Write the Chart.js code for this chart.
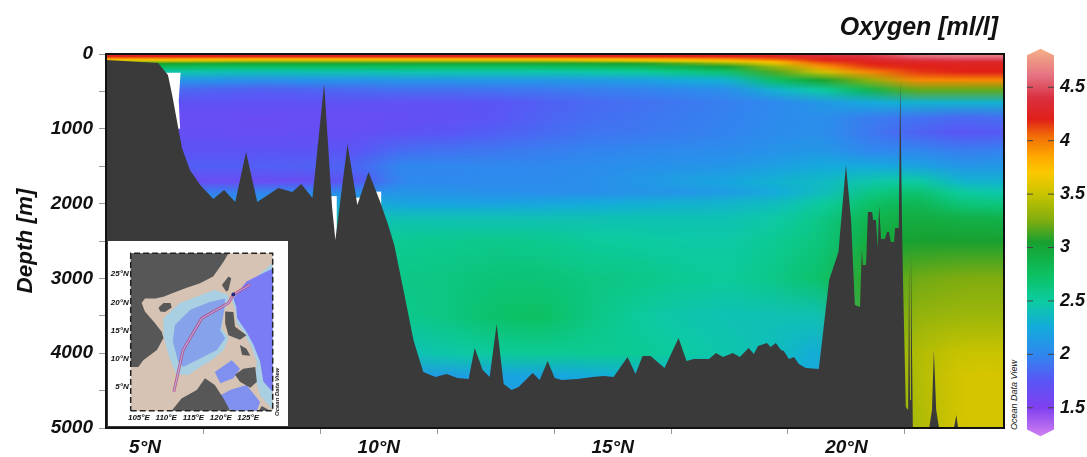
<!DOCTYPE html>
<html>
<head>
<meta charset="utf-8">
<script src="https://cdn.jsdelivr.net/npm/chart.js@4"></script>
<style>
  html, body { margin: 0; padding: 0; background: #fff; }
  body { width: 1087px; height: 457px; position: relative; overflow: hidden; font-family: "Liberation Sans", Arial, sans-serif; }
  .box { position: absolute; }
  .label { position: absolute; font-style: italic; color: #111; white-space: nowrap; }
</style>
</head>
<body>
<div class="box" style="left:0;top:0;width:1006px;height:457px"><canvas id="section"></canvas></div>
<div class="box" style="left:1020px;top:32px;width:67px;height:421px"><canvas id="colorbar"></canvas></div>
<div class="box" style="left:108px;top:241px;width:180px;height:185px;background:#fff"><canvas id="inset"></canvas></div>
<div class="label" style="right:89px;top:12px;font-size:25px;font-weight:bold">Oxygen [ml/l]</div>
<div class="label" style="left:1014px;top:395px;font-size:9px;transform:translate(-50%,-50%) rotate(-90deg)">Ocean Data View</div>
<div class="label" style="left:277px;top:392px;font-size:6px;font-weight:bold;transform:translate(-50%,-50%) rotate(-90deg)">Ocean Data View</div>
<script>
// depth levels of the oxygen table [m]
var depths = [0, 30, 60, 80, 100, 130, 170, 240, 350, 480, 650, 850, 1050, 1300, 1500, 1700, 1850, 2000, 2200, 2500, 3000, 3500, 4000, 4300, 5000];
// latitude of each column
var columnLats = [4.5, 5.5, 6.5, 7.5, 8.5, 9.5, 10.5, 11.5, 12.5, 13.5, 14.5, 15.5, 16.5, 17.5, 18.5, 19.5, 20.5, 21.5, 22.5, 23.5];
// oxygen [ml/l], one row per column, same order as depths
var oxygen = [
  [4.3, 4.2, 3.95, 3.7, 3.4, 3.05, 2.8, 2.45, 2.1, 1.85, 1.72, 1.66, 1.68, 1.73, 1.8, 1.66, 1.95, 2.1, 2.3, 2.4, 2.5, 2.5, 2.4, 2.2, 2.1],
  [4.3, 4.2, 3.95, 3.7, 3.4, 3.05, 2.8, 2.45, 2.1, 1.85, 1.72, 1.66, 1.68, 1.73, 1.8, 1.66, 1.95, 2.1, 2.3, 2.4, 2.5, 2.5, 2.4, 2.2, 2.1],
  [4.3, 4.2, 3.92, 3.68, 3.35, 3.0, 2.75, 2.42, 2.08, 1.82, 1.72, 1.66, 1.68, 1.73, 1.8, 1.65, 1.95, 2.1, 2.3, 2.4, 2.5, 2.5, 2.4, 2.2, 2.1],
  [4.3, 4.22, 3.9, 3.65, 3.3, 3.0, 2.75, 2.4, 2.05, 1.8, 1.7, 1.65, 1.67, 1.73, 1.8, 1.65, 1.98, 2.12, 2.3, 2.4, 2.5, 2.5, 2.4, 2.2, 2.1],
  [4.3, 4.22, 3.9, 3.65, 3.3, 3.0, 2.75, 2.42, 2.08, 1.82, 1.72, 1.66, 1.68, 1.74, 1.81, 1.67, 2.0, 2.15, 2.32, 2.42, 2.5, 2.52, 2.4, 2.2, 2.1],
  [4.3, 4.22, 3.9, 3.65, 3.3, 3.0, 2.75, 2.42, 2.08, 1.85, 1.72, 1.66, 1.68, 1.75, 1.83, 1.75, 2.02, 2.3, 2.42, 2.5, 2.55, 2.6, 2.4, 2.2, 2.1],
  [4.3, 4.22, 3.9, 3.65, 3.3, 3.0, 2.75, 2.45, 2.1, 1.88, 1.7, 1.68, 1.72, 1.87, 2.0, 2.0, 2.1, 2.2, 2.42, 2.55, 2.6, 2.58, 2.4, 2.15, 2.1],
  [4.3, 4.22, 3.9, 3.65, 3.3, 3.0, 2.75, 2.45, 2.1, 1.88, 1.72, 1.7, 1.75, 1.9, 2.0, 2.0, 2.08, 2.2, 2.42, 2.57, 2.62, 2.62, 2.47, 2.15, 2.1],
  [4.3, 4.22, 3.9, 3.65, 3.3, 3.0, 2.75, 2.45, 2.12, 1.9, 1.75, 1.74, 1.8, 1.92, 2.0, 2.02, 2.06, 2.2, 2.42, 2.58, 2.66, 2.72, 2.52, 2.2, 2.1],
  [4.3, 4.22, 3.9, 3.65, 3.3, 3.0, 2.75, 2.45, 2.12, 1.92, 1.8, 1.82, 1.85, 1.95, 2.0, 2.02, 2.05, 2.22, 2.42, 2.57, 2.66, 2.75, 2.55, 2.2, 2.1],
  [4.3, 4.22, 3.9, 3.68, 3.35, 3.02, 2.78, 2.47, 2.14, 1.95, 1.85, 1.87, 1.9, 1.98, 2.03, 2.05, 2.05, 2.25, 2.42, 2.52, 2.62, 2.62, 2.55, 2.25, 2.15],
  [4.3, 4.22, 3.92, 3.7, 3.4, 3.05, 2.82, 2.5, 2.16, 1.97, 1.88, 1.9, 1.92, 2.0, 2.06, 2.1, 2.08, 2.28, 2.42, 2.5, 2.6, 2.52, 2.55, 2.3, 2.2],
  [4.3, 4.2, 3.95, 3.75, 3.5, 3.15, 2.9, 2.6, 2.25, 2.0, 1.92, 1.94, 1.95, 2.02, 2.08, 2.17, 2.1, 2.3, 2.42, 2.48, 2.55, 2.45, 2.5, 2.3, 2.2],
  [4.3, 4.22, 4.0, 3.85, 3.6, 3.3, 3.05, 2.7, 2.3, 2.05, 1.96, 1.97, 1.98, 2.04, 2.1, 2.22, 2.15, 2.32, 2.42, 2.48, 2.52, 2.42, 2.45, 2.3, 2.2],
  [4.35, 4.25, 4.1, 4.0, 3.8, 3.6, 3.35, 3.15, 2.75, 2.3, 2.0, 2.02, 2.03, 2.08, 2.17, 2.3, 2.25, 2.38, 2.48, 2.55, 2.6, 2.42, 2.38, 2.28, 2.2],
  [4.4, 4.35, 4.25, 4.2, 4.15, 4.05, 3.9, 3.55, 3.05, 2.5, 2.12, 2.05, 2.05, 2.12, 2.25, 2.35, 2.38, 2.5, 2.6, 2.65, 2.72, 2.42, 2.25, 2.22, 2.2],
  [4.45, 4.4, 4.32, 4.28, 4.25, 4.2, 4.15, 3.95, 3.3, 2.85, 2.25, 1.95, 1.92, 2.0, 2.25, 2.45, 2.6, 2.72, 2.85, 2.95, 3.1, 3.15, 3.2, 3.2, 3.2],
  [4.65, 4.58, 4.48, 4.42, 4.32, 4.24, 4.2, 4.15, 3.95, 3.2, 2.3, 1.9, 1.82, 2.0, 2.2, 2.5, 2.7, 2.85, 2.95, 3.05, 3.22, 3.32, 3.42, 3.42, 3.4],
  [4.7, 4.62, 4.52, 4.45, 4.35, 4.25, 4.22, 4.2, 3.95, 3.2, 2.3, 1.85, 1.75, 1.95, 2.1, 2.3, 2.5, 2.65, 2.9, 3.05, 3.25, 3.35, 3.5, 3.55, 3.55],
  [4.7, 4.62, 4.52, 4.45, 4.35, 4.25, 4.22, 4.2, 3.95, 3.2, 2.3, 1.88, 1.78, 1.98, 2.12, 2.3, 2.45, 2.62, 2.88, 3.05, 3.25, 3.35, 3.5, 3.55, 3.55]
];

// sea floor along the section
var floorLat = [4.16, 5.28, 5.49, 5.58, 5.71, 5.79, 5.96, 6.18, 6.46, 6.69, 6.93, 7.16, 7.40, 7.85, 8.15, 8.34, 8.58, 8.83, 9.00, 9.07, 9.33, 9.54, 9.78, 10.03, 10.20, 10.33, 10.57, 10.74, 10.95, 11.21, 11.45, 11.68, 11.92, 12.05, 12.22, 12.37, 12.52, 12.67, 12.84, 12.99, 13.29, 13.44, 13.61, 13.76, 13.91, 14.25, 14.57, 14.81, 15.02, 15.32, 15.49, 15.64, 15.81, 16.11, 16.41, 16.58, 16.73, 17.06, 17.21, 17.36, 17.57, 17.72, 17.91, 18.02, 18.11, 18.30, 18.38, 18.49, 18.60, 18.66, 18.77, 18.88, 18.98, 19.13, 19.41, 19.63, 19.83, 19.99, 20.10, 20.18, 20.29, 20.33, 20.35, 20.42, 20.46, 20.55, 20.57, 20.63, 20.67, 20.70, 20.74, 20.82, 20.87, 20.91, 20.95, 21.02, 21.04, 21.12, 21.15, 21.19, 21.21, 21.27, 21.32, 21.34, 21.36, 21.38, 21.42, 21.77, 21.83, 21.87, 21.92, 21.98, 22.30, 22.35, 22.39, 23.37];
var floorDepth = [80, 120, 280, 548, 990, 1257, 1551, 1751, 1939, 1818, 1979, 1310, 1979, 1792, 1845, 1738, 1925, 401, 2046, 2487, 1203, 2019, 1578, 1979, 2286, 2554, 3289, 3824, 4252, 4319, 4278, 4332, 4345, 3931, 4225, 4319, 3610, 4412, 4492, 4452, 4265, 4359, 4105, 4332, 4359, 4345, 4319, 4305, 4319, 4051, 4278, 4038, 4038, 4198, 3797, 4105, 4078, 4078, 3998, 4051, 3998, 4051, 3931, 4011, 3904, 3864, 3917, 3864, 3958, 3971, 4078, 4051, 4145, 4198, 4212, 3022, 2647, 1484, 2219, 3356, 3383, 2621, 2821, 2821, 2112, 2112, 2219, 2219, 2594, 2032, 2473, 2473, 2380, 2380, 2514, 2514, 2326, 2326, 361, 2313, 3022, 4720, 4760, 2821, 4626, 2607, 5000, 5000, 4760, 3958, 4760, 5000, 5000, 4827, 5000, 5000];

// areas without data, white in the section [lat, depth]
var gapShelf = [[5.40, 250], [5.76, 250], [5.72, 620], [5.75, 1000], [5.5, 1000]];
var gapRidge = [[8.95, 1900], [9.1, 1900], [9.1, 2550], [8.95, 2550]];
var gapSaddle = [[9.4, 1920], [9.65, 1920], [9.65, 2100], [9.4, 2100]];
var gapSlope = [[9.9, 1840], [10.05, 1840], [10.05, 2100], [9.9, 2100]];

var colorValues = [1.234, 1.5, 1.75, 2.0, 2.25, 2.5, 2.75, 3.05, 3.25, 3.5, 3.7, 3.85, 4.05, 4.2, 4.4, 4.6, 4.86];
var colorHex = ['#d080f0', '#8040f0', '#5a55f5', '#2f88ee', '#14aadc', '#0ccca0', '#0cc060', '#18a030', '#80ac10', '#c8c400', '#fcc800', '#ffa800', '#f06a08', '#e02018', '#d93040', '#e47080', '#f5b088'];
var barTicks = [1.5, 2, 2.5, 3, 3.5, 4, 4.5];
var barOutlineX = [0, 0, 0.5, 1, 1, 0.5];
var barOutlineY = [1.297, 4.8, 4.86, 4.8, 1.297, 1.234];

// inset map outlines [lon, lat]
var mapFrame = [[103.5, 0.86], [129.5, 0.86], [129.5, 28.7], [103.5, 28.7], [103.5, 0.86]];
var mainland = [[103.5, 28.7], [121.4, 28.7], [120.5, 27.2], [118.6, 24.6], [116.2, 23.4], [113.5, 22.5], [111.0, 21.6], [109.5, 21.0], [108.0, 20.7], [106.1, 20.7], [105.5, 19.9], [106.1, 18.4], [108.0, 16.3], [109.2, 14.8], [109.5, 13.7], [108.3, 11.6], [105.8, 9.8], [104.9, 8.6], [103.5, 8.6]];
var hainan = [[108.6, 19.1], [109.5, 19.9], [110.8, 19.9], [111.0, 19.1], [109.8, 18.3], [108.9, 18.4]];
var taiwan = [[120.2, 23.1], [121.4, 24.6], [121.9, 24.3], [121.4, 22.2], [121.0, 21.9]];
var luzon = [[120.8, 18.4], [122.3, 18.3], [122.6, 15.7], [124.7, 14.2], [123.5, 13.4], [121.4, 14.2], [120.8, 16.3]];
var visayas = [[123.5, 12.5], [124.7, 11.8], [125.4, 10.6], [123.9, 10.7]];
var mindanao = [[124.1, 8.3], [126.3, 8.6], [126.6, 6.0], [125.4, 4.9], [123.5, 6.0], [122.6, 7.2]];
var borneo = [[111.0, 0.86], [112.8, 3.0], [115.6, 4.5], [117.1, 6.6], [118.9, 5.4], [120.5, 3.0], [121.7, 0.86]];
var moluccas = [[127.5, 1.7], [129.0, 0.86], [127.0, 0.86]];
var scsRim = [[109.5, 17.2], [112.5, 19.9], [116.2, 21.3], [118.9, 22.2], [121.4, 21.3], [121.4, 19.9], [120.5, 18.4], [120.2, 15.4], [121.4, 13.7], [120.5, 11.6], [118.3, 9.8], [116.2, 8.6], [114.1, 7.2], [111.9, 7.2], [110.4, 10.7], [109.5, 14.2]];
var scsDeep = [[111.6, 16.0], [114.4, 18.7], [118.0, 20.1], [120.8, 20.7], [120.6, 18.4], [119.9, 15.1], [120.8, 13.7], [119.3, 11.6], [116.2, 10.1], [113.1, 8.6], [112.2, 9.5], [111.2, 13.1]];
var philSeaRim = [[122.0, 20.4], [124.1, 22.2], [125.9, 24.0], [129.5, 27.0], [129.5, 1.0], [127.2, 3.6], [126.3, 6.6], [126.6, 9.5], [125.4, 12.5], [124.1, 14.8], [122.9, 16.3], [122.6, 18.7]];
var philSeaDeep = [[122.3, 20.7], [124.7, 23.7], [129.5, 26.0], [129.5, 4.2], [127.8, 6.0], [127.2, 9.5], [126.0, 12.5], [124.7, 14.8], [123.0, 17.2], [122.8, 19.3]];
var suluSea = [[118.9, 7.7], [122.0, 9.8], [123.5, 8.3], [122.3, 6.6], [119.9, 5.7]];
var celebesSea = [[118.9, 3.0], [121.7, 4.5], [124.7, 5.4], [127.2, 2.4], [126.6, 0.86], [122.3, 0.86], [120.2, 1.6]];
var track = [[111.4, 4.2], [113.1, 11.6], [116.5, 17.2], [121.4, 19.9], [122.3, 21.4], [125.4, 23.2]];
var trackDeepStation = [[122.3, 21.4]];

function hexRgb(h) {
  return [parseInt(h.slice(1, 3), 16), parseInt(h.slice(3, 5), 16), parseInt(h.slice(5, 7), 16)];
}

// colour scale of the legend
function colorAt(v) {
  var n = colorValues.length;
  if (v <= colorValues[0]) return colorHex[0];
  if (v >= colorValues[n - 1]) return colorHex[n - 1];
  for (var i = 1; i < n; i++) {
    if (v <= colorValues[i]) {
      var t = (v - colorValues[i - 1]) / (colorValues[i] - colorValues[i - 1]);
      var a = hexRgb(colorHex[i - 1]), b = hexRgb(colorHex[i]);
      return 'rgb(' + [0, 1, 2].map(function (k) { return Math.round(a[k] + (b[k] - a[k]) * t); }).join(',') + ')';
    }
  }
}

function pts(list) {
  return list.map(function (p) { return { x: p[0], y: p[1] }; });
}

function polygon(list, color) {
  return { type: 'scatter', data: pts(list), polyColor: color, pointRadius: 0, showLine: false };
}

// fills a dataset's points as a closed shape
var polygonFill = {
  id: 'polygonFill',
  afterDatasetDraw: function (chart, args) {
    var ds = chart.data.datasets[args.index];
    if (!ds.polyColor) return;
    var ctx = chart.ctx, points = args.meta.data;
    ctx.save();
    ctx.beginPath();
    points.forEach(function (p, i) {
      if (i === 0) ctx.moveTo(p.x, p.y); else ctx.lineTo(p.x, p.y);
    });
    ctx.closePath();
    ctx.fillStyle = typeof ds.polyColor === 'function' ? ds.polyColor(chart) : ds.polyColor;
    ctx.fill();
    ctx.restore();
  }
};

// evens out the steps between columns, sideways only
var columnSmooth = {
  id: 'columnSmooth',
  afterDatasetDraw: function (chart, args) {
    if (args.meta.type !== 'bar') return;
    var a = chart.chartArea, ctx = chart.ctx;
    var x = chart.scales.x;
    var r = Math.round((x.getPixelForValue(columnLats[1]) - x.getPixelForValue(columnLats[0])) / 2);
    var left = Math.round(a.left), top = Math.round(a.top), w = Math.round(a.width), h = Math.round(a.height);
    var img = ctx.getImageData(left, top, w, h), px = img.data;
    [r, Math.round(r / 2)].forEach(function (radius) {
      var row = new Float32Array(w * 3);
      for (var yy = 0; yy < h; yy++) {
        var base = yy * w * 4;
        for (var i = 0; i < w; i++) {
          row[i * 3] = px[base + i * 4];
          row[i * 3 + 1] = px[base + i * 4 + 1];
          row[i * 3 + 2] = px[base + i * 4 + 2];
        }
        for (var c = 0; c < 3; c++) {
          var sum = 0;
          for (var k = -radius; k <= radius; k++) sum += row[Math.max(0, k) * 3 + c];
          for (var j = 0; j < w; j++) {
            px[base + j * 4 + c] = sum / (2 * radius + 1);
            sum += row[Math.min(w - 1, j + radius + 1) * 3 + c] - row[Math.max(0, j - radius) * 3 + c];
          }
        }
      }
    });
    ctx.putImageData(img, left, top);
  }
};

var plotFrame = {
  id: 'plotFrame',
  afterDraw: function (chart) {
    var a = chart.chartArea, ctx = chart.ctx;
    ctx.save();
    ctx.strokeStyle = '#111';
    ctx.lineWidth = 2;
    ctx.strokeRect(a.left, a.top, a.width, a.height);
    ctx.restore();
  }
};

var labelFont = { family: '"Liberation Sans"', size: 19, weight: 'bold', style: 'italic' };

new Chart('section', {
  type: 'bar',
  plugins: [polygonFill, columnSmooth, plotFrame],
  data: {
    datasets: [
      {
        type: 'line',
        data: floorLat.map(function (lat, i) { return { x: lat, y: floorDepth[i] }; }),
        borderWidth: 0,
        pointRadius: 0,
        tension: 0,
        backgroundColor: '#3a3a3a',
        fill: { value: 5000 }
      },
      polygon(gapShelf, '#fff'),
      polygon(gapRidge, '#fff'),
      polygon(gapSaddle, '#fff'),
      polygon(gapSlope, '#fff'),
      {
        data: columnLats.map(function (lat) { return { x: lat, y: [0, 5000] }; }),
        categoryPercentage: 1,
        barPercentage: 1.03,
        borderWidth: 0,
        backgroundColor: function (c) {
          var chart = c.chart;
          if (!chart.chartArea || c.dataIndex === undefined) return '#000';
          var y = chart.scales.y;
          var g = chart.ctx.createLinearGradient(0, y.getPixelForValue(0), 0, y.getPixelForValue(5000));
          oxygen[c.dataIndex].forEach(function (v, i) {
            g.addColorStop(depths[i] / 5000, colorAt(v));
          });
          return g;
        }
      }
    ]
  },
  options: {
    responsive: true,
    maintainAspectRatio: false,
    animation: false,
    events: [],
    layout: { padding: { top: 54, right: 2, left: 0, bottom: 0 } },
    plugins: { legend: { display: false }, tooltip: { enabled: false } },
    scales: {
      x: {
        type: 'linear',
        min: 4.165,
        max: 23.37,
        offset: false,
        afterFit: function (s) { s.height = 29; },
        border: { display: false },
        grid: { drawOnChartArea: false, tickLength: 6, tickColor: '#999' },
        ticks: {
          stepSize: 2.5,
          includeBounds: false,
          autoSkip: false,
          maxRotation: 0,
          padding: 2,
          color: '#111',
          font: labelFont,
          callback: function (v) { return v % 5 === 0 ? v + '°N' : ''; }
        }
      },
      y: {
        reverse: true,
        min: 0,
        max: 5000,
        afterFit: function (s) { s.width = 106; },
        border: { display: false },
        grid: { drawOnChartArea: false, tickLength: 7, tickColor: '#999' },
        title: {
          display: true,
          text: 'Depth [m]',
          color: '#111',
          padding: { top: 12, bottom: 0 },
          font: { family: '"Liberation Sans"', size: 22.5, weight: 'bold', style: 'italic' }
        },
        ticks: {
          stepSize: 500,
          autoSkip: false,
          padding: 6,
          color: '#111',
          font: labelFont,
          callback: function (v) { return v % 1000 === 0 ? v : ''; }
        }
      }
    }
  }
});

new Chart('colorbar', {
  type: 'scatter',
  plugins: [polygonFill],
  data: {
    datasets: [
      { data: barTicks.map(function (v) { return { x: 0.11, y: v }; }), pointStyle: 'line', pointRadius: 3, borderColor: '#444', borderWidth: 1 },
      { data: barTicks.map(function (v) { return { x: 0.89, y: v }; }), pointStyle: 'line', pointRadius: 3, borderColor: '#444', borderWidth: 1 },
      {
        data: barOutlineX.map(function (x, i) { return { x: x, y: barOutlineY[i] }; }),
        pointRadius: 0,
        polyColor: function (chart) {
          var y = chart.scales.y, lo = y.getPixelForValue(colorValues[0]), hi = y.getPixelForValue(colorValues[colorValues.length - 1]);
          var g = chart.ctx.createLinearGradient(0, lo, 0, hi);
          colorValues.forEach(function (v, i) {
            g.addColorStop((v - colorValues[0]) / (colorValues[colorValues.length - 1] - colorValues[0]), colorHex[i]);
          });
          return g;
        }
      }
    ]
  },
  options: {
    responsive: true,
    maintainAspectRatio: false,
    animation: false,
    events: [],
    layout: { padding: { top: 7, left: 7, bottom: 10, right: 0 } },
    plugins: { legend: { display: false }, tooltip: { enabled: false } },
    scales: {
      x: { type: 'linear', min: 0, max: 1, display: false },
      y: {
        position: 'right',
        min: colorValues[0],
        max: colorValues[colorValues.length - 1],
        afterFit: function (s) { s.width = 33; },
        afterBuildTicks: function (s) { s.ticks = barTicks.map(function (v) { return { value: v }; }); },
        border: { display: false },
        grid: { display: false, drawTicks: false },
        ticks: {
          padding: 6,
          color: '#111',
          font: { family: '"Liberation Sans"', size: 18, weight: 'bold', style: 'italic' },
          callback: function (v) { return v; }
        }
      }
    }
  }
});

var insetFont = { family: '"Liberation Sans"', size: 8, weight: 'bold', style: 'italic' };

new Chart('inset', {
  type: 'scatter',
  plugins: [polygonFill],
  data: {
    datasets: [
      { data: pts(mapFrame), showLine: true, borderColor: '#222', borderWidth: 1.5, borderDash: [6, 3], pointRadius: 0, clip: false },
      { data: pts(trackDeepStation), pointRadius: 2, backgroundColor: '#1c2a80', borderWidth: 0 },
      { data: pts(track), showLine: true, borderColor: 'rgba(185,170,240,0.95)', borderWidth: 1.2, pointRadius: 0 },
      { data: pts(track), showLine: true, borderColor: 'rgba(190,60,100,0.8)', borderWidth: 2.8, pointRadius: 0 },
      polygon(mainland, '#575757'),
      polygon(hainan, '#575757'),
      polygon(taiwan, '#575757'),
      polygon(luzon, '#575757'),
      polygon(visayas, '#575757'),
      polygon(mindanao, '#575757'),
      polygon(borneo, '#575757'),
      polygon(moluccas, '#575757'),
      polygon(suluSea, '#7f90ee'),
      polygon(celebesSea, '#7f90ee'),
      polygon(scsDeep, '#86a2ea'),
      polygon(philSeaDeep, '#7a7cf5'),
      polygon(scsRim, '#a9cfe2'),
      polygon(philSeaRim, '#a9cfe2'),
      polygon(mapFrame, '#d6c3b4')
    ]
  },
  options: {
    responsive: true,
    maintainAspectRatio: false,
    animation: false,
    events: [],
    layout: { padding: { top: 12.3, right: 15.3, left: 0, bottom: 0 } },
    plugins: { legend: { display: false }, tooltip: { enabled: false } },
    scales: {
      x: {
        type: 'linear',
        min: 103.5,
        max: 129.5,
        afterFit: function (s) { s.height = 15.3; },
        border: { display: false },
        grid: { display: false, drawTicks: false },
        ticks: {
          stepSize: 5,
          includeBounds: false,
          autoSkip: false,
          maxRotation: 0,
          padding: 2,
          color: '#111',
          font: insetFont,
          callback: function (v) { return v + '°E'; }
        }
      },
      y: {
        type: 'linear',
        min: 0.86,
        max: 28.7,
        afterFit: function (s) { s.width = 22.7; },
        border: { display: false },
        grid: { display: false, drawTicks: false },
        ticks: {
          stepSize: 5,
          includeBounds: false,
          autoSkip: false,
          padding: 2,
          color: '#111',
          font: insetFont,
          callback: function (v) { return v + '°N'; }
        }
      }
    }
  }
});
</script>
</body>
</html>
